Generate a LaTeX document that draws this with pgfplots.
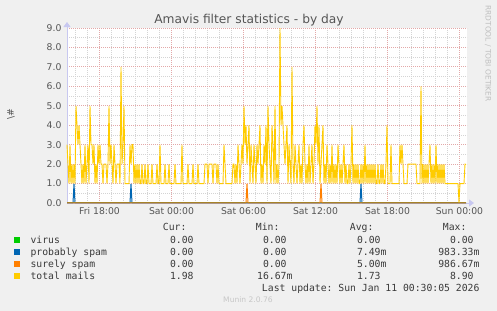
\documentclass[border=0pt]{standalone}
\usepackage{pgfplots}
\pgfplotsset{compat=1.18}
\usepackage{pgfplotstable}
\usetikzlibrary{arrows.meta}
\usepackage{fontspec}
\setmainfont{DejaVu Sans}
\setmonofont{DejaVu Sans Mono}
\definecolor{bgc}{HTML}{F0F0F0}
\definecolor{txtc}{HTML}{555555}
\definecolor{legc}{HTML}{3A3A3A}
\definecolor{mgrid}{HTML}{E3A8A8}
\definecolor{ngrid}{HTML}{D4D4D4}
\definecolor{axc}{HTML}{C8C8F0}
\definecolor{cvirus}{HTML}{00CC00}
\definecolor{cprob}{HTML}{0066B3}
\definecolor{csure}{HTML}{FF8000}
\definecolor{ctotal}{HTML}{FFCC00}
\newcommand\mono{\ttfamily\fontsize{9.8}{11}\selectfont}

% total mails, one sample per 5 minutes (x = sample index)
\pgfplotstableread{
x y
0 3
1 2
2 1
3 3
4 1
5 2
6 1
7 2
8 1
9 5
10 4
11 3
12 4
13 3
14 2
15 1
16 2
17 1
18 3
19 1
20 2
21 3
22 1
23 5
24 3
25 3
26 2
27 3
28 1
29 2
30 1
31 3
32 2
33 3
34 2
35 2
36 1
37 2
39 2
40 1
41 2
42 5
43 2
44 3
45 2
46 1
47 3
48 2
49 1
50 2
52 2
53 1
54 7
55 2
56 3
57 5
58 1
62 1
63 3
64 2
65 3
66 3
67 1
68 2
69 1
70 2
71 1
72 2
73 1
74 1
75 2
76 1
77 1
78 2
79 1
80 1
81 2
82 1
84 1
85 2
86 1
89 1
90 2
91 1
92 1
93 3
94 1
97 1
98 2
99 1
101 1
102 2
103 1
107 1
108 2
109 1
114 1
115 3
116 1
120 1
121 2
122 1
125 1
126 2
127 1
130 1
131 2
132 1
137 1
138 2
140 2
141 1
142 2
145 2
146 1
147 2
149 2
150 1
151 2
152 1
156 1
157 3
158 2
159 1
165 1
166 2
167 2
168 1
169 2
170 1
171 3
172 2
173 1
174 2
175 3
176 2
177 5
178 3
179 4
180 2
181 3
182 4
183 1
184 3
185 2
186 1
187 3
188 2
189 1
190 3
191 2
192 3
193 4
194 1
195 2
196 1
197 3
198 2
199 4
200 1
201 5
202 3
203 2
204 1
205 4
206 3
207 1
208 5
209 1
210 2
211 1
212 2
213 9
214 4
215 5
216 4
217 3
218 2
219 3
220 4
221 1
222 3
223 2
224 1
225 7
226 2
227 1
228 3
229 2
230 1
231 2
232 3
233 1
234 2
235 1
236 3
237 4
238 2
239 1
240 2
241 1
242 3
243 1
244 2
245 3
246 1
247 2
248 4
249 3
250 5
251 2
252 4
253 1
254 2
255 3
256 4
257 1
258 2
259 1
260 3
261 2
262 1
263 2
264 1
265 3
266 1
267 2
268 1
269 2
270 1
271 3
272 2
273 1
274 2
275 1
276 2
277 3
278 1
279 2
280 1
281 1
282 2
283 1
284 2
285 4
286 1
287 2
288 1
289 2
290 1
291 2
292 1
293 1
294 2
295 1
296 2
297 1
298 3
299 1
300 2
301 1
302 2
303 1
304 2
305 1
306 2
307 1
308 2
309 1
310 1
311 2
312 1
313 1
314 2
315 1
316 2
317 1
318 1
319 2
320 4
321 1
323 1
324 3
325 1
332 1
333 3
334 2
335 3
336 2
337 1
340 1
341 2
349 2
350 1
353 1
354 6
355 1
356 2
357 1
358 2
359 1
360 2
361 1
362 2
363 3
364 1
365 2
366 1
367 2
368 1
369 3
370 1
371 2
372 1
373 2
374 1
375 2
376 1
377 2
378 1
391 1
392 0.0167
393 1
397 1
398 2
399 1.98
}\totaltab

\begin{document}
\begin{tikzpicture}
\fill[bgc] (0,0) rectangle (497bp,311bp);
\begin{axis}[
  at={(67bp,108bp)}, anchor=south west,
  width=400bp, height=175bp, scale only axis,
  xmin=0, xmax=400, ymin=0, ymax=9,
  axis background/.style={fill=white},
  axis lines=left,
  axis line style={draw=axc, line width=0.8bp},
  every outer x axis line/.style={draw=axc, line width=0.8bp, -{Triangle[length=5bp,width=7bp]}, shorten >=-7bp},
  every outer y axis line/.style={draw=axc, line width=0.8bp, -{Triangle[length=5bp,width=7bp]}, shorten >=-6bp},
  tick style={draw=none},
  major tick length=0pt, minor tick length=0pt,
  xtick={32.5,104.5,176.5,248.5,320.5,392.5},
  xticklabels={Fri 18:00,Sat 00:00,Sat 06:00,Sat 12:00,Sat 18:00,Sun 00:00},
  minor xtick={8.5,20.5,44.5,56.5,68.5,80.5,92.5,116.5,128.5,140.5,152.5,164.5,188.5,200.5,212.5,224.5,236.5,260.5,272.5,284.5,296.5,308.5,332.5,344.5,356.5,368.5,380.5},
  ytick={0,1,...,9},
  minor ytick={0.5,1.5,...,8.5},
  grid=both,
  major grid style={draw=mgrid, line width=0.8bp, dash pattern=on 1bp off 1bp},
  minor grid style={draw=ngrid, line width=0.8bp, dash pattern=on 1bp off 1bp},
  /pgf/number format/.cd, fixed, fixed zerofill, precision=1, assume math mode=true,
  /pgfplots/.cd,
  ticklabel style={font=\fontsize{9.3}{10}\selectfont, text=txtc},
  xticklabel style={yshift=-1bp},
  yticklabel style={xshift=-2bp},
  clip=false,
]
\addplot[cvirus, line width=1bp] coordinates {(0,0) (399,0)};
\addplot[cprob, line width=1bp] coordinates {(0,0) (6,0) (7,0.983) (8,0) (63,0) (64,0.98) (65,0) (293,0) (294,0.98) (295,0) (399,0)};
\addplot[csure, line width=1bp] coordinates {(0,0) (179,0) (180,0.987) (181,0) (253,0) (254,0.98) (255,0) (399,0)};
\addplot[ctotal, line width=0.9bp, line join=miter, miter limit=3] table {\totaltab};
\end{axis}
% title and side texts
\node[anchor=base, font=\fontsize{12.3}{14}\selectfont, text=txtc] at (249bp,287bp) {Amavis filter statistics - by day};
\node[rotate=90, font=\fontsize{9.3}{10}\selectfont, text=txtc] at (11bp,197bp) {\textbackslash\#};
\node[rotate=-90, font=\fontsize{7.5}{8}\selectfont, text=black!25] at (488bp,257.5bp) {RRDTOOL / TOBI OETIKER};
% legend table
\node[anchor=base east, font=\mono, text=legc] at (190bp,80.3bp) {Cur:};
\node[anchor=base east, font=\mono, text=legc] at (283bp,80.3bp) {Min:};
\node[anchor=base east, font=\mono, text=legc] at (377bp,80.3bp) {Avg:};
\node[anchor=base east, font=\mono, text=legc] at (470bp,80.3bp) {Max:};
\fill[cvirus] (14bp,68bp) rectangle (20bp,74bp);
\fill[cprob] (14bp,56bp) rectangle (20bp,62bp);
\fill[csure] (14bp,44bp) rectangle (20bp,50bp);
\fill[ctotal] (14bp,32bp) rectangle (20bp,38bp);
\node[anchor=base west, font=\mono, text=legc] at (27bp,67.7bp) {virus};
\node[anchor=base west, font=\mono, text=legc] at (27bp,55.7bp) {probably spam};
\node[anchor=base west, font=\mono, text=legc] at (27bp,43.7bp) {surely spam};
\node[anchor=base west, font=\mono, text=legc] at (27bp,31.7bp) {total mails};
% row values
\node[anchor=base east, font=\mono, text=legc] at (203bp,67.7bp) {0.00\phantom{m}};
\node[anchor=base east, font=\mono, text=legc] at (296bp,67.7bp) {0.00\phantom{m}};
\node[anchor=base east, font=\mono, text=legc] at (390bp,67.7bp) {0.00\phantom{m}};
\node[anchor=base east, font=\mono, text=legc] at (483bp,67.7bp) {0.00\phantom{m}};
\node[anchor=base east, font=\mono, text=legc] at (203bp,55.7bp) {0.00\phantom{m}};
\node[anchor=base east, font=\mono, text=legc] at (296bp,55.7bp) {0.00\phantom{m}};
\node[anchor=base east, font=\mono, text=legc] at (390bp,55.7bp) {7.49m};
\node[anchor=base east, font=\mono, text=legc] at (483bp,55.7bp) {983.33m};
\node[anchor=base east, font=\mono, text=legc] at (203bp,43.7bp) {0.00\phantom{m}};
\node[anchor=base east, font=\mono, text=legc] at (296bp,43.7bp) {0.00\phantom{m}};
\node[anchor=base east, font=\mono, text=legc] at (390bp,43.7bp) {5.00m};
\node[anchor=base east, font=\mono, text=legc] at (483bp,43.7bp) {986.67m};
\node[anchor=base east, font=\mono, text=legc] at (203bp,31.7bp) {1.98\phantom{m}};
\node[anchor=base east, font=\mono, text=legc] at (296bp,31.7bp) {16.67m};
\node[anchor=base east, font=\mono, text=legc] at (390bp,31.7bp) {1.73\phantom{m}};
\node[anchor=base east, font=\mono, text=legc] at (483bp,31.7bp) {8.90\phantom{m}};
\node[anchor=base east, font=\mono, text=legc] at (483bp,20bp) {Last update: Sun Jan 11 00:30:05 2026};
\node[anchor=base, font=\fontsize{7.6}{8}\selectfont, text=black!22] at (248bp,8.3bp) {Munin 2.0.76};
\end{tikzpicture}
\end{document}
